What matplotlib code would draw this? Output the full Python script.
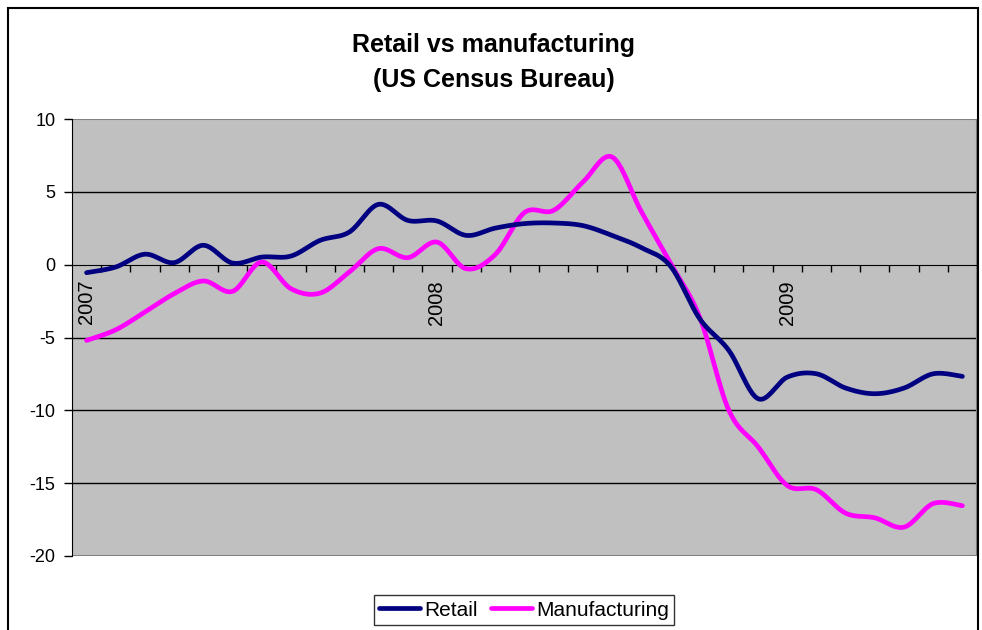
import numpy as np
import matplotlib
matplotlib.use("Agg")
from matplotlib import pyplot as plt
from matplotlib.patches import Rectangle

# monthly values, Jan 2007 .. Jul 2009
months = [f"{y}-{m:02d}" for y in (2007, 2008, 2009) for m in range(1, 13)][:31]
retail = [-0.55, -0.16, 0.72, 0.14, 1.33, 0.11, 0.52, 0.59, 1.67, 2.24, 4.14,
          3.04, 3.0, 2.01, 2.51, 2.82, 2.86, 2.68, 2.01, 1.17, -0.1, -3.71,
          -5.89, -9.2, -7.72, -7.49, -8.47, -8.86, -8.47, -7.49, -7.67]
manufacturing = [-5.2, -4.47, -3.25, -1.99, -1.12, -1.83, 0.18, -1.65, -1.95,
                 -0.5, 1.1, 0.48, 1.55, -0.28, 0.7, 3.58, 3.73, 5.67, 7.39,
                 3.65, 0.1, -3.6, -10.0, -12.5, -15.16, -15.45, -17.06,
                 -17.38, -18.02, -16.4, -16.55]
year_labels = ["2007", "2008", "2009"]


def smooth(y, n=24):
    # excel style smoothed line (bezier through each point)
    y = np.asarray(y, dtype=float)
    x = np.arange(len(y), dtype=float)
    px = np.concatenate([[x[0]], x, [x[-1]]])
    py = np.concatenate([[y[0]], y, [y[-1]]])
    t = np.linspace(0, 1, n)[:, None]
    xs, ys = [], []
    for i in range(1, len(px) - 2):
        p0 = np.array([px[i], py[i]])
        p3 = np.array([px[i + 1], py[i + 1]])
        p1 = p0 + (p3 - np.array([px[i - 1], py[i - 1]])) / 6
        p2 = p3 - (np.array([px[i + 2], py[i + 2]]) - p0) / 6
        b = ((1 - t) ** 3) * p0 + 3 * ((1 - t) ** 2) * t * p1 + 3 * (1 - t) * t ** 2 * p2 + t ** 3 * p3
        xs.append(b[:, 0])
        ys.append(b[:, 1])
    return np.concatenate(xs), np.concatenate(ys)


plt.rcParams['font.family'] = ['Liberation Sans', 'DejaVu Sans']
plt.rcParams['axes.unicode_minus'] = False

fig = plt.figure(figsize=(9.82, 6.3), dpi=100)
ax = fig.add_axes([72 / 982, 1 - 556 / 630, 905 / 982, 437 / 630])
ax.set_facecolor('#c0c0c0')

# chart frame
fig.patches.append(Rectangle((8 / 982, -0.02), 970 / 982, 1 - 8 / 630 + 0.02,
                             transform=fig.transFigure, fill=False,
                             edgecolor='black', lw=1.5, zorder=0))

for v in (5, -5, -10, -15):
    ax.axhline(v, color='black', lw=1, zorder=1)

xr, yr = smooth(retail)
xm, ym = smooth(manufacturing)
ax.plot(xr, yr, color='#000080', lw=3.4, label='Retail', zorder=4,
        solid_capstyle='round')
ax.plot(xm, ym, color='#ff00ff', lw=3.4, label='Manufacturing', zorder=3,
        solid_capstyle='round')

ax.set_xlim(-0.5, len(months) - 0.5)
ax.set_ylim(-20, 10)
ax.set_yticks(range(-20, 11, 5))
ax.tick_params(axis='y', direction='out', length=6, width=1, labelsize=13, pad=6)

# category axis crossing at zero
for s in ('top', 'right'):
    ax.spines[s].set_visible(False)
ax.spines['bottom'].set_position(('data', 0))
ax.spines['bottom'].set_color('black')
ax.spines['left'].set_color('black')
ax.add_patch(Rectangle((0, 0), 1, 1, transform=ax.transAxes, fill=False,
                       edgecolor='#808080', lw=1.5, zorder=2))

year_pos = [i for i, m in enumerate(months) if m.endswith('-01')]
ax.set_xticks(year_pos)
ax.set_xticklabels(year_labels, rotation=90, fontsize=14.5, va='top')
ax.set_xticks(np.arange(0.5, len(months) - 0.5, 1), minor=True)
ax.tick_params(axis='x', which='major', length=0, pad=11)
ax.tick_params(axis='x', which='minor', direction='out', length=5, width=1)

fig.text(0.503, 1 - 45 / 630, 'Retail vs manufacturing', ha='center',
         va='center', fontsize=18, fontweight='bold')
fig.text(0.503, 1 - 80 / 630, '(US Census Bureau)', ha='center',
         va='center', fontsize=18, fontweight='bold')

leg = fig.legend(loc='center', bbox_to_anchor=(524 / 982, 1 - 610 / 630),
                 ncol=2, fontsize=15, frameon=True, fancybox=False,
                 handlelength=2.0, handletextpad=0.2, columnspacing=0.6,
                 borderpad=0.25)
leg.get_frame().set_edgecolor('black')
leg.get_frame().set_linewidth(1)

fig.savefig('out.png', dpi=100)
